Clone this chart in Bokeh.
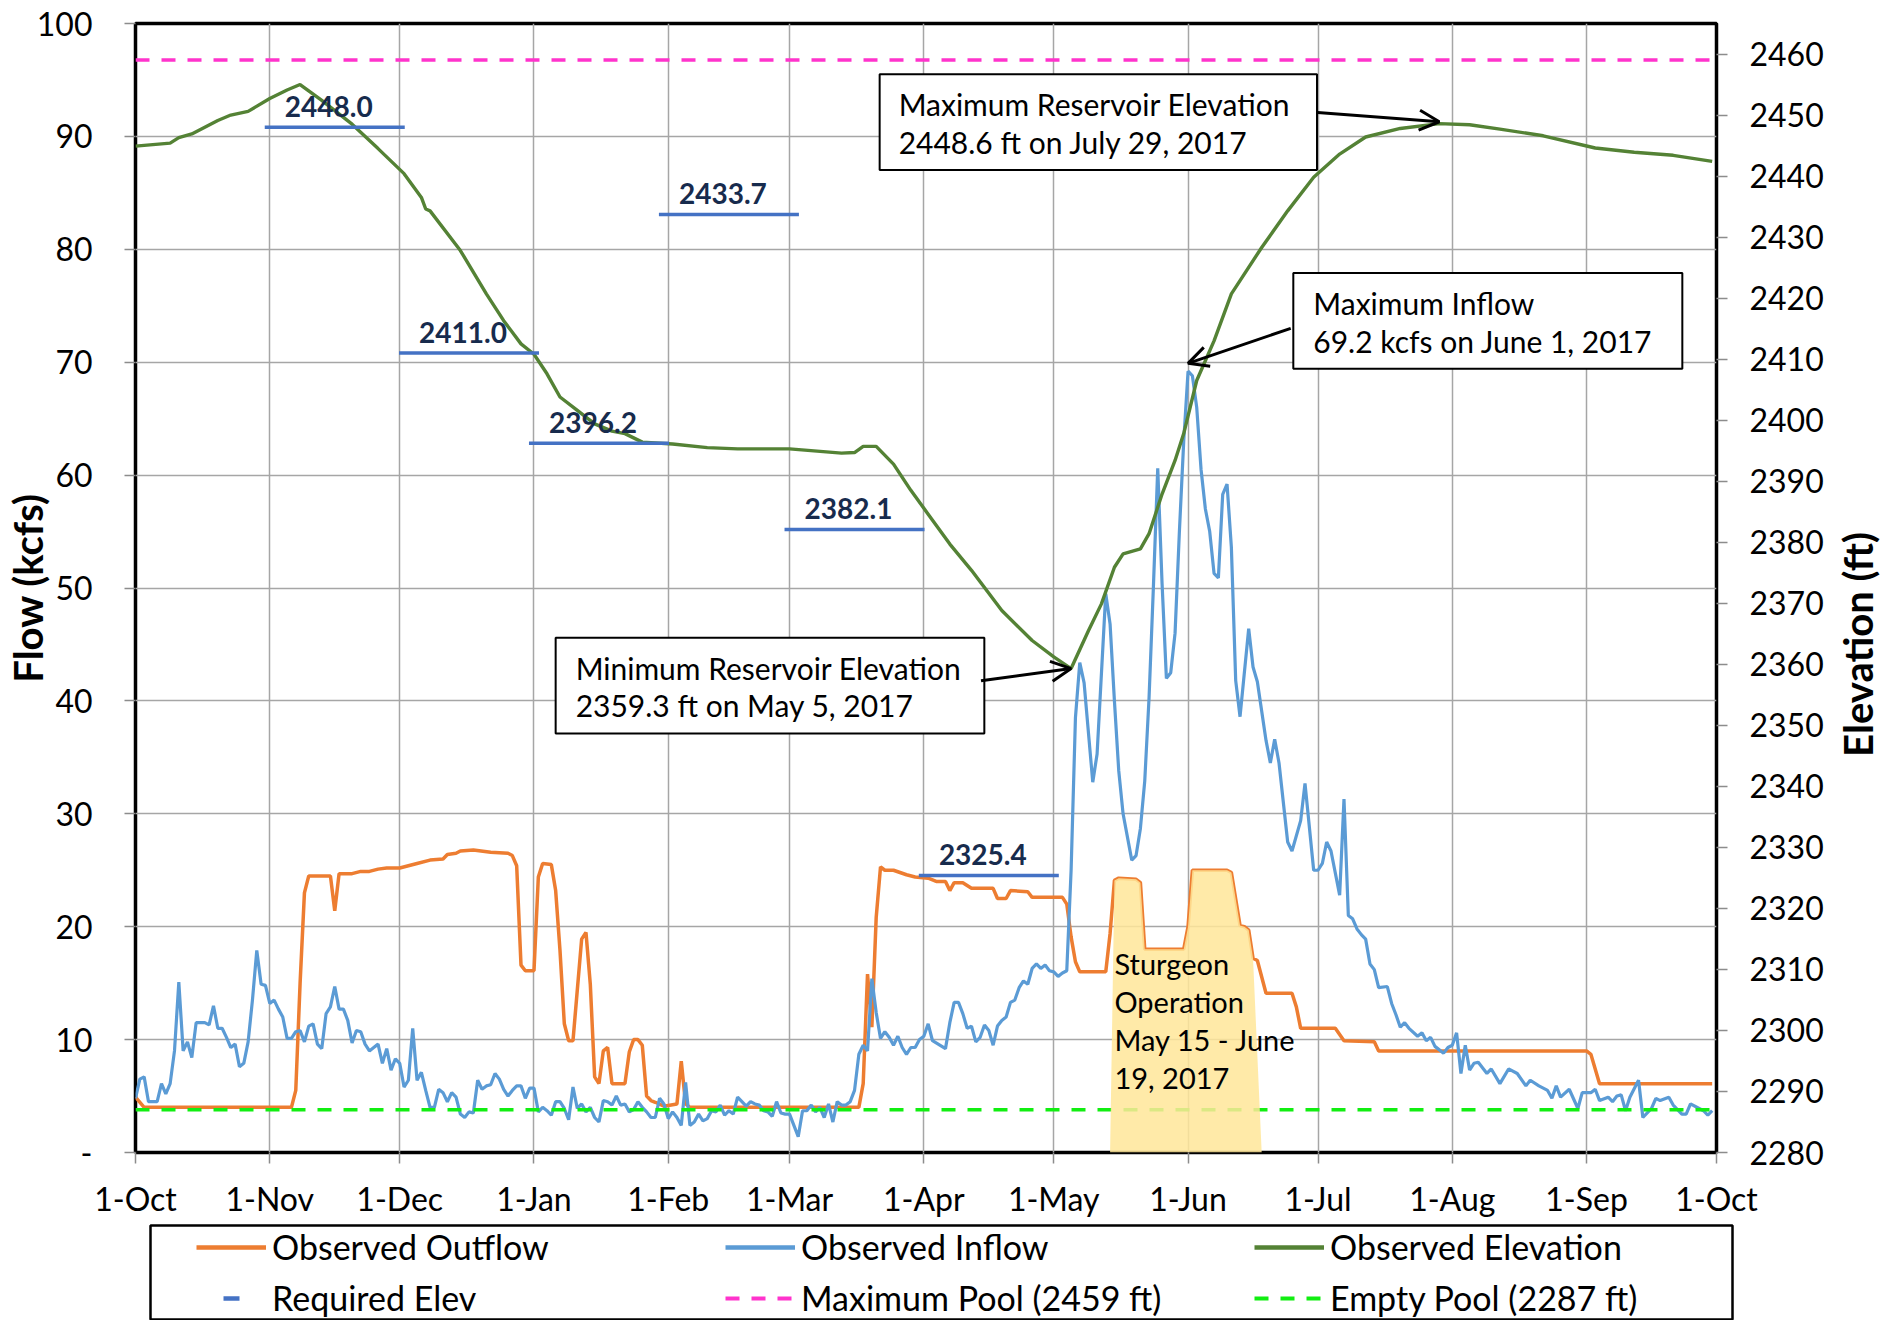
import math
import pandas as pd
from bokeh.plotting import figure
from bokeh.layouts import column, row
from bokeh.models import (Range1d, LinearAxis, FixedTicker, Legend, LegendItem,
                          Label, Arrow, OpenHead)
from bokeh.embed import file_html
from bokeh.resources import INLINE
from bokeh.core.properties import value

# ---------------- data ----------------
wy_start = "2016-10-01"   # day 0 of the water year
month_starts = ["2016-10-01", "2016-11-01", "2016-12-01", "2017-01-01", "2017-02-01",
                "2017-03-01", "2017-04-01", "2017-05-01", "2017-06-01", "2017-07-01",
                "2017-08-01", "2017-09-01", "2017-10-01"]
month_labels = ["1-Oct", "1-Nov", "1-Dec", "1-Jan", "1-Feb", "1-Mar", "1-Apr",
                "1-May", "1-Jun", "1-Jul", "1-Aug", "1-Sep", "1-Oct"]
flow_ticks = [0, 10, 20, 30, 40, 50, 60, 70, 80, 90, 100]
elev_ticks = [2280, 2290, 2300, 2310, 2320, 2330, 2340, 2350, 2360, 2370, 2380, 2390,
              2400, 2410, 2420, 2430, 2440, 2450, 2460]

inflow_day = [0, 1, 2, 3, 5, 6, 7, 8, 9, 10, 11, 12, 13, 14, 16, 17, 18, 19, 20, 21, 22, 23,
              24, 25, 26, 27, 28, 29, 30, 31, 32, 33, 34, 35, 36, 37, 38, 39, 40, 41, 42, 43,
              44, 45, 46, 47, 48, 49, 50, 51, 52, 53, 54, 55, 56, 57, 58, 59, 60, 61, 62, 63,
              64, 65, 66, 67, 68, 69, 70, 71, 72, 73, 74, 75, 76, 77, 78, 79, 80, 81, 82, 83,
              84, 85, 86, 87, 88, 89, 90, 91, 92, 93, 94, 95, 96, 97, 98, 99, 100, 101, 102,
              103, 104, 105, 106, 107, 108, 109, 110, 111, 112, 113, 114, 115, 116, 117, 118,
              119, 120, 121, 122, 123, 124, 125, 126, 127, 128, 129, 130, 131, 132, 133, 134,
              135, 136, 137, 138, 139, 140, 141, 142, 143, 144, 145, 146, 147, 148, 149, 150,
              151, 152, 153, 154, 155, 156, 157, 158, 159, 160, 161, 162, 163, 164, 165, 166,
              167, 168, 169, 170, 171, 172, 173, 174, 175, 176, 177, 178, 179, 180, 181, 182,
              183, 184, 187, 188, 189, 190, 191, 192, 193, 194, 195, 196, 197, 198, 199, 200,
              201, 202, 203, 204, 205, 206, 207, 208, 209, 210, 211, 212, 213, 214, 215, 216,
              217, 218, 219, 221, 222, 224, 225, 226, 227, 228, 230, 231, 232, 233, 234, 235,
              236, 237, 238, 239, 240, 241, 242, 243, 244, 245, 246, 247, 248, 249, 250, 251,
              252, 253, 254, 255, 257, 258, 259, 261, 262, 263, 264, 266, 267, 269, 270, 272,
              273, 274, 275, 276, 278, 279, 280, 281, 282, 283, 284, 285, 286, 287, 289, 290,
              291, 292, 293, 294, 296, 297, 298, 299, 300, 302, 303, 304, 305, 306, 307, 308,
              309, 310, 312, 313, 315, 317, 319, 321, 322, 324, 326, 327, 328, 329, 331, 333,
              334, 336, 337, 338, 340, 341, 342, 343, 344, 345, 347, 348, 350, 351, 352, 354,
              355, 357, 358, 359, 361, 362, 363, 364]
inflow_kcfs = [4.8, 6.5, 6.7, 4.5, 4.5, 6.1, 5.2, 6.1, 9.0, 15.1, 9.0, 9.8, 8.4, 11.5, 11.5,
               11.3, 13.0, 11.0, 11.0, 10.2, 9.3, 9.6, 7.6, 7.9, 9.8, 13.5, 17.9, 14.9, 14.8,
               13.2, 13.5, 12.7, 12.0, 10.1, 10.1, 10.7, 10.8, 9.8, 11.2, 11.4, 9.6, 9.2, 12.3,
               12.9, 14.7, 12.7, 12.7, 11.7, 9.7, 10.8, 10.7, 9.6, 9.0, 9.3, 9.6, 7.9, 9.2, 7.3,
               8.3, 7.9, 5.8, 6.4, 11.0, 6.4, 7.1, 5.5, 4.0, 4.0, 5.6, 5.3, 4.5, 5.3, 4.9, 3.4,
               3.1, 3.6, 3.5, 6.4, 5.6, 5.9, 6.0, 7.0, 6.5, 5.6, 5.0, 5.5, 5.9, 5.9, 4.8, 5.7,
               5.7, 3.6, 4.0, 3.7, 3.3, 4.5, 4.5, 3.9, 2.9, 5.8, 3.9, 4.3, 3.6, 4.0, 3.1, 2.7,
               4.6, 4.5, 4.2, 5.0, 4.2, 4.3, 3.6, 3.8, 4.5, 4.0, 3.6, 3.1, 3.1, 4.8, 4.3, 3.0,
               3.6, 3.1, 2.4, 6.2, 2.4, 2.7, 3.4, 2.8, 3.0, 3.7, 3.6, 4.2, 3.3, 3.7, 3.4, 4.9,
               4.5, 4.1, 4.5, 4.3, 4.2, 3.7, 3.6, 3.2, 4.5, 3.5, 3.4, 3.4, 2.4, 1.4, 3.7, 3.7,
               4.2, 3.6, 4.0, 3.1, 4.3, 2.7, 4.5, 4.2, 4.2, 4.5, 5.5, 8.7, 9.5, 9.0, 15.4, 12.4,
               10.1, 10.7, 10.2, 9.5, 10.3, 9.3, 8.7, 9.3, 9.3, 10.0, 10.3, 11.4, 9.9, 9.2,
               11.5, 13.3, 13.3, 12.3, 11.0, 11.2, 9.8, 10.2, 11.3, 10.8, 9.5, 11.2, 11.7, 12.0,
               13.3, 13.5, 14.6, 15.2, 14.9, 16.3, 16.7, 16.3, 16.6, 16.1, 16.0, 15.6, 15.9,
               16.1, 25.0, 38.5, 43.4, 41.6, 32.8, 35.3, 49.5, 46.8, 40.0, 33.8, 30.0, 25.9,
               26.3, 28.7, 32.9, 40.3, 50.1, 60.6, 50.4, 42.0, 42.5, 46.0, 55.0, 63.0, 69.2,
               68.8, 66.0, 60.5, 57.0, 55.0, 51.3, 50.9, 58.3, 59.2, 53.6, 41.8, 38.6, 46.4,
               43.0, 41.7, 36.5, 34.5, 36.6, 34.5, 27.5, 26.7, 29.4, 32.7, 25.0, 25.0, 25.6,
               27.5, 26.7, 22.8, 31.3, 21.0, 20.7, 19.8, 19.3, 18.9, 16.7, 16.2, 14.6, 14.7,
               13.2, 12.2, 11.1, 11.5, 11.0, 10.3, 10.6, 9.9, 10.2, 9.4, 8.8, 9.3, 9.5, 10.6,
               7.0, 9.5, 7.3, 7.9, 8.0, 7.0, 7.4, 6.1, 7.4, 7.0, 5.9, 6.4, 5.9, 5.5, 4.8, 5.9,
               4.9, 5.6, 3.9, 5.3, 5.3, 5.6, 4.6, 4.9, 4.5, 5.0, 5.1, 3.7, 4.9, 6.4, 3.1, 3.9,
               4.8, 4.6, 4.9, 4.2, 3.4, 3.4, 4.3, 3.9, 3.7, 3.3, 3.7]

outflow_day = [0, 2, 36, 37, 38, 39, 40, 45, 46, 47, 50, 52, 54, 56, 58, 61, 65, 68, 71, 72, 74,
               75, 78, 82, 86, 87, 88, 89, 90, 92, 93, 94, 96, 97, 98, 99, 100, 101, 103, 104,
               105, 106, 107, 108, 109, 110, 113, 114, 115, 116, 117, 118, 119, 120, 122, 125,
               126, 127, 128, 167, 168, 169, 170, 171, 172, 173, 175, 178, 180, 183, 185, 187,
               188, 189, 191, 193, 198, 199, 201, 202, 206, 207, 214, 215, 216, 217, 218, 224,
               225, 226, 227, 231, 232, 233, 242, 243, 244, 252, 253, 255, 256, 257, 258, 259,
               261, 267, 268, 269, 277, 279, 286, 287, 335, 336, 338, 364]
outflow_kcfs = [4.9, 4.0, 4.0, 5.5, 15.0, 23.0, 24.5, 24.5, 21.4, 24.7, 24.7, 24.9, 24.9, 25.1,
                25.2, 25.2, 25.6, 25.9, 26.0, 26.4, 26.5, 26.7, 26.8, 26.6, 26.5, 26.3, 25.4,
                16.6, 16.1, 16.1, 24.4, 25.6, 25.5, 23.2, 17.9, 11.4, 9.9, 9.9, 18.9, 19.5,
                14.9, 6.7, 6.1, 9.0, 9.3, 6.1, 6.1, 8.9, 10.0, 10.0, 9.5, 5.0, 4.6, 4.45, 4.1,
                4.3, 8.1, 4.3, 4.0, 4.0, 6.1, 15.8, 11.1, 20.8, 25.3, 25.0, 25.0, 24.6, 24.4,
                24.3, 24.0, 24.0, 23.2, 23.9, 23.9, 23.4, 23.4, 22.5, 22.5, 23.2, 23.1, 22.6,
                22.6, 22.0, 19.1, 16.9, 16.0, 16.0, 19.4, 24.1, 24.3, 24.2, 23.9, 18.0, 18.0,
                20.0, 25.0, 25.0, 24.8, 20.1, 20.0, 19.7, 17.2, 17.0, 14.1, 14.1, 12.9, 11.0,
                11.0, 9.9, 9.8, 9.0, 9.0, 8.7, 6.1, 6.1]

elev_day = [0, 8, 10, 13, 19, 22, 26, 31, 35, 38, 43, 50, 56, 62, 66, 67, 68, 75, 81, 85, 89,
            92, 95, 98, 102, 106, 110, 113, 117, 124, 132, 139, 151, 163, 166, 168, 171, 175,
            179, 183, 188, 193, 200, 207, 212, 216, 220, 223, 226, 228, 232, 234, 237, 240,
            242, 245, 249, 253, 260, 266, 272, 278, 284, 292, 301, 308, 315, 325, 337, 346,
            355, 364]
elev_ft = [2444.9, 2445.4, 2446.3, 2446.9, 2449.1, 2450.0, 2450.6, 2452.7, 2454.1, 2455.0,
           2452.4, 2448.5, 2444.5, 2440.4, 2436.5, 2434.6, 2434.3, 2427.8, 2420.7, 2416.3,
           2412.5, 2410.8, 2407.6, 2403.8, 2401.6, 2399.4, 2398.2, 2397.8, 2396.4, 2396.1,
           2395.5, 2395.3, 2395.3, 2394.6, 2394.7, 2395.7, 2395.7, 2392.8, 2388.5, 2384.6,
           2379.7, 2375.4, 2368.8, 2363.9, 2361.2, 2359.3, 2365.5, 2369.9, 2375.9, 2378.1,
           2378.9, 2381.4, 2387.9, 2393.4, 2397.8, 2406.5, 2413.0, 2420.7, 2428.3, 2434.3,
           2439.8, 2443.6, 2446.4, 2447.8, 2448.6, 2448.4, 2447.7, 2446.6, 2444.6, 2443.9,
           2443.4, 2442.4]

req_dates = ["2016-11-16", "2016-12-17", "2017-01-16", "2017-02-15", "2017-03-16", "2017-04-16"]
req_elev = [2448.0, 2411.0, 2396.2, 2433.7, 2382.1, 2325.4]

sturgeon_day = [225, 226, 227, 231, 232, 233, 242, 243, 244, 252, 253, 255, 256, 257, 258, 260]
sturgeon_kcfs = [0.0, 24.1, 24.3, 24.2, 23.9, 18.0, 18.0, 20.0, 25.0, 25.0, 24.8, 20.1, 20.0,
                 19.7, 17.2, 0.0]

max_pool_ft = 2459
empty_pool_ft = 2287

# --------------- helpers ---------------
T0 = pd.Timestamp(wy_start)
T1 = pd.Timestamp(month_starts[-1])


def to_dt(days):
    return [T0 + pd.Timedelta(days=d) for d in days]


def ms(t):
    return pd.Timestamp(t).value / 1e6


def day_ms(d):
    return (T0 + pd.Timedelta(days=d)).value / 1e6


FONT = "Lato"
TICK_FS = "32px"
C_OUT, C_IN, C_EL, C_REQ = "#ED7D31", "#5B9BD5", "#548235", "#4472C4"
C_MAX, C_EMPTY = "#FF33CC", "#11EE11"

TOTAL_W, TOTAL_H = 1883, 1320
RW = 52                              # strip holding the right-hand axis title
MAIN_W = TOTAL_W - RW
MAIN_H = 1222
LEG_H = TOTAL_H - MAIN_H
BORDER_TOP, BORDER_BOTTOM = 23, 70

p = figure(width=MAIN_W, height=MAIN_H, x_axis_type="datetime",
           x_range=Range1d(T0, T1), y_range=Range1d(0, 100),
           output_backend="svg", toolbar_location=None,
           min_border_left=135, min_border_right=MAIN_W - 1716,
           min_border_top=BORDER_TOP, min_border_bottom=BORDER_BOTTOM)
p.extra_y_ranges = {"elev": Range1d(2280, 2465)}
p.background_fill_color = "white"
p.border_fill_color = "white"
p.outline_line_color = "black"
p.outline_line_width = 3.5

# x axis
xa = p.xaxis[0]
month_ms = [ms(m) for m in month_starts]
xa.ticker = FixedTicker(ticks=month_ms)
xa.major_label_overrides = {t: lab for t, lab in zip(month_ms, month_labels)}
xa.major_label_standoff = 15

# left axis
ya = p.yaxis[0]
ya.ticker = FixedTicker(ticks=flow_ticks)
ya.major_label_overrides = {0: "-"}
ya.major_label_standoff = 32
ya.axis_label = "Flow (kcfs)"
ya.axis_label_standoff = -18
ya.axis_label_text_font = FONT
ya.axis_label_text_font_size = "40px"
ya.axis_label_text_font_style = "bold"
ya.axis_label_text_color = "black"

# right axis
ra = LinearAxis(y_range_name="elev", ticker=FixedTicker(ticks=elev_ticks))
ra.major_label_standoff = 22
p.add_layout(ra, "right")

for ax in (xa, ya, ra):
    ax.axis_line_color = None
    ax.major_tick_in = 0
    ax.major_tick_out = 11
    ax.major_tick_line_color = "#8C8C8C"
    ax.major_tick_line_width = 1.5
    ax.minor_tick_line_color = None
    ax.major_label_text_font = FONT
    ax.major_label_text_font_size = TICK_FS
    ax.major_label_text_color = "black"

p.xgrid.grid_line_color = "#A6A6A6"
p.xgrid.grid_line_width = 1.5
p.ygrid.grid_line_color = "#A6A6A6"
p.ygrid.grid_line_width = 1.5

# --------------- series ---------------
p.line(to_dt(outflow_day), outflow_kcfs, line_color=C_OUT, line_width=3.5)
p.line(to_dt(inflow_day), inflow_kcfs, line_color=C_IN, line_width=3.2)
p.line(to_dt(elev_day), elev_ft, line_color=C_EL, line_width=3.4, y_range_name="elev")

req_x = [pd.Timestamp(d) for d in req_dates]
p.scatter(req_x, req_elev, marker="dash", size=140, line_color=C_REQ,
          line_width=3.5, y_range_name="elev")
p.text(req_x, req_elev, text=[f"{v:.1f}" for v in req_elev], x_offset=-6, y_offset=-21,
       text_font=value(FONT), text_font_style="bold", text_font_size="28px",
       text_color="#172B4D", text_align="center", text_baseline="middle",
       y_range_name="elev")

p.line([T0, T1], [max_pool_ft, max_pool_ft], line_color=C_MAX, line_width=3.5,
       line_dash="14 12", y_range_name="elev")
p.line([T0, T1], [empty_pool_ft, empty_pool_ft], line_color=C_EMPTY,
       line_width=3.5, line_dash="14 12", y_range_name="elev")

p.varea(x=to_dt(sturgeon_day), y1=0, y2=sturgeon_kcfs, fill_color="#FFE699",
        fill_alpha=0.85)

# --------------- annotations ---------------
p.add_layout(Label(x=day_ms(226.0), y=18.3, text="Sturgeon\nOperation\nMay 15 - June\n19, 2017",
                   text_font=FONT, text_font_size="29px", text_line_height=1.09,
                   text_align="left", text_baseline="top", text_color="black"))

box_style = dict(text_font=FONT, text_font_size="30px", text_line_height=1.05,
                 text_align="left", text_baseline="top", text_color="black",
                 border_line_color="black", border_line_width=2,
                 background_fill_color="white")

p.add_layout(Label(x=day_ms(171.8), y=95.5,
                   text="Maximum Reservoir Elevation\n2448.6 ft on July 29, 2017",
                   padding=dict(left=19, right=27, top=12, bottom=10), **box_style))
p.add_layout(Label(x=day_ms(267.3), y=77.9,
                   text="Maximum Inflow\n69.2 kcfs on June 1, 2017",
                   padding=dict(left=20, right=30, top=12, bottom=10), **box_style))
p.add_layout(Label(x=day_ms(97.0), y=45.6,
                   text="Minimum Reservoir Elevation\n2359.3 ft on May 5, 2017",
                   padding=dict(left=20, right=23, top=12, bottom=10), **box_style))

late = [i for i, d in enumerate(elev_day) if d > 200]
max_el_i = max(late, key=lambda i: elev_ft[i])
min_el_i = min(range(len(elev_ft)), key=lambda i: elev_ft[i])
max_in_i = max(range(len(inflow_kcfs)), key=lambda i: inflow_kcfs[i])

p.add_layout(Arrow(end=OpenHead(size=20, line_width=3, line_color="black"),
                   x_start=day_ms(272.9), y_start=2450.4,
                   x_end=day_ms(elev_day[max_el_i]), y_end=elev_ft[max_el_i] + 0.3,
                   line_width=3, line_color="black", y_range_name="elev"))
p.add_layout(Arrow(end=OpenHead(size=20, line_width=3, line_color="black"),
                   x_start=day_ms(195.2), y_start=2357.3,
                   x_end=day_ms(elev_day[min_el_i]), y_end=elev_ft[min_el_i],
                   line_width=3, line_color="black", y_range_name="elev"))
p.add_layout(Arrow(end=OpenHead(size=20, line_width=3, line_color="black"),
                   x_start=day_ms(266.7), y_start=73.0,
                   x_end=day_ms(inflow_day[max_in_i]), y_end=inflow_kcfs[max_in_i] + 0.7,
                   line_width=3, line_color="black"))

# --------------- right-hand axis title (reads bottom-to-top) ---------------
rs = figure(width=RW, height=MAIN_H, x_range=Range1d(0, RW), y_range=p.y_range,
            output_backend="svg", toolbar_location=None,
            x_axis_location=None, y_axis_location=None,
            min_border_left=0, min_border_right=0,
            min_border_top=BORDER_TOP, min_border_bottom=BORDER_BOTTOM)
rs.grid.visible = False
rs.outline_line_color = None
rs.background_fill_color = "white"
rs.border_fill_color = "white"
rs.add_layout(Label(x=26, y=45.0, text="Elevation (ft)", angle=math.pi / 2,
                    text_font=FONT, text_font_size="40px", text_font_style="bold",
                    text_align="center", text_baseline="middle", text_color="black"))

# --------------- legend (own strip below the chart) ---------------
lg = figure(width=TOTAL_W, height=LEG_H, x_range=Range1d(0, 1), y_range=Range1d(0, 1),
            output_backend="svg", toolbar_location=None,
            x_axis_location=None, y_axis_location=None,
            min_border_left=150, min_border_right=TOTAL_W - 1732,
            min_border_top=1225 - MAIN_H, min_border_bottom=0)
lg.grid.visible = False
lg.background_fill_color = "white"
lg.border_fill_color = "white"
lg.outline_line_color = "black"
lg.outline_line_width = 2.5

nan = [float("nan")]
g_out = lg.line(nan, nan, line_color=C_OUT, line_width=4.5)
g_in = lg.line(nan, nan, line_color=C_IN, line_width=4.5)
g_el = lg.line(nan, nan, line_color=C_EL, line_width=4.5)
g_req = lg.scatter(nan, nan, marker="dash", line_color=C_REQ, line_width=4.5)
g_max = lg.line(nan, nan, line_color=C_MAX, line_width=4, line_dash="14 12")
g_empty = lg.line(nan, nan, line_color=C_EMPTY, line_width=4, line_dash="14 12")

legend = Legend(items=[
    LegendItem(label="Observed Outflow", renderers=[g_out]),
    LegendItem(label="Observed Inflow", renderers=[g_in]),
    LegendItem(label="Observed Elevation", renderers=[g_el]),
    LegendItem(label="Required Elev", renderers=[g_req]),
    LegendItem(label="Maximum Pool (2459 ft)", renderers=[g_max]),
    LegendItem(label="Empty Pool (2287 ft)", renderers=[g_empty]),
], orientation="horizontal", ncols=3, location=(46, 2))
legend.margin = 0
legend.padding = 0
legend.spacing = 10
legend.glyph_width = 70
legend.glyph_height = 40
legend.label_height = 40
legend.label_width = 443
legend.label_standoff = 6
legend.label_text_font = FONT
legend.label_text_font_size = "34px"
legend.label_text_color = "black"
legend.label_text_baseline = "middle"
legend.border_line_alpha = 0
legend.background_fill_alpha = 0
lg.add_layout(legend)

layout = column(row(p, rs), lg)
open("out.html", "w").write(file_html(layout, INLINE))
